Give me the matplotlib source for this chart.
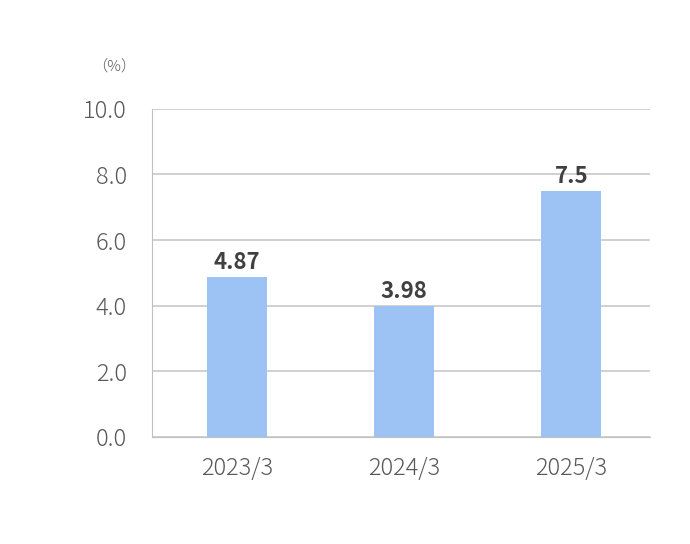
import matplotlib
matplotlib.use("Agg")
import matplotlib.pyplot as plt

categories = ["2023/3", "2024/3", "2025/3"]
values = [4.87, 3.98, 7.5]
labels = ["4.87", "3.98", "7.5"]
yticks = [0, 2, 4, 6, 8, 10]

plt.rcParams['font.family'] = ['Noto Sans CJK JP', 'DejaVu Sans']
fig = plt.figure(figsize=(6.9, 5.44), dpi=100)
ax = fig.add_axes([0.22, 0.197, 0.722, 0.603])
x = range(len(categories))
ax.bar(x, values, width=0.36, color="#9DC3F5", zorder=3)
for xi, v, l in zip(x, values, labels):
    ax.text(xi, v + 0.1, l, ha="center", va="bottom", fontsize=16,
            fontweight="bold", color="#404040")
ax.set_xlim(-0.51, 2.47)
ax.set_ylim(0, 10)
ax.set_yticks(yticks)
ax.set_yticklabels([f"{t:.1f}" for t in yticks], fontsize=17, color="#595959",
                   fontweight="light")
ax.set_xticks(list(x))
ax.set_xticklabels(categories, fontsize=17, color="#595959", fontweight="light")
ax.yaxis.grid(True, color="#c8c8c8", linewidth=1.2, zorder=0)
for s in ["top", "right"]:
    ax.spines[s].set_visible(False)
for s in ["left", "bottom"]:
    ax.spines[s].set_color("#c0c0c0")
ax.tick_params(axis="x", length=0, pad=14)
ax.tick_params(axis="y", length=0, pad=18)
fig.text(0.165, 0.87, "（%）", fontsize=11, color="#595959", ha="center",
         fontweight="light")
fig.savefig("out.png", dpi=100)
